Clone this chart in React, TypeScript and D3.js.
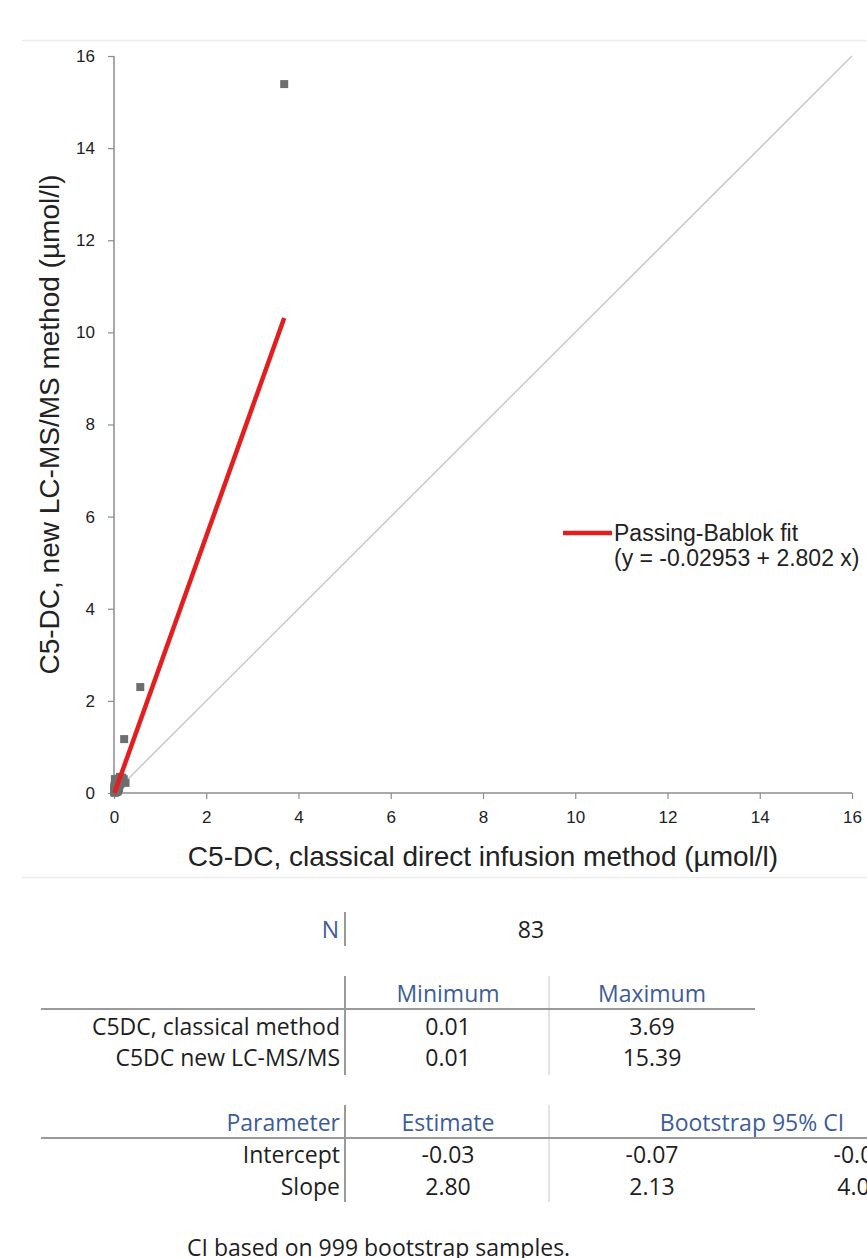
import React, { useEffect, useRef } from "react";
import * as d3 from "d3";

// measurements: classical direct infusion (x) vs new LC-MS/MS (y), µmol/l
const classical = [
  3.69, 0.57, 0.22, 0.25, 0.21, 0.19, 0.17, 0.15, 0.13, 0.12,
  0.11, 0.1, 0.09, 0.09, 0.08, 0.08, 0.07, 0.07, 0.07, 0.06,
  0.06, 0.06, 0.05, 0.05, 0.05, 0.05, 0.04, 0.04, 0.04, 0.04,
  0.04, 0.03, 0.03, 0.03, 0.03, 0.03, 0.03, 0.02, 0.02, 0.02,
  0.02, 0.02, 0.02, 0.02, 0.01, 0.01, 0.01, 0.01, 0.01, 0.01,
  0.05, 0.06, 0.08, 0.1, 0.12, 0.14, 0.03, 0.04, 0.05, 0.07,
  0.09, 0.11, 0.02, 0.03, 0.04, 0.06, 0.08, 0.02, 0.03, 0.05,
  0.07, 0.01, 0.02, 0.04, 0.06, 0.03, 0.05, 0.09, 0.16, 0.2,
  0.18, 0.13, 0.04,
];
const lcms = [
  15.39, 2.3, 1.17, 0.22, 0.3, 0.26, 0.33, 0.28, 0.35, 0.24,
  0.2, 0.31, 0.18, 0.27, 0.15, 0.22, 0.12, 0.19, 0.25, 0.1,
  0.16, 0.21, 0.08, 0.13, 0.17, 0.23, 0.06, 0.1, 0.14, 0.19,
  0.27, 0.05, 0.08, 0.11, 0.15, 0.2, 0.29, 0.03, 0.06, 0.09,
  0.12, 0.16, 0.24, 0.3, 0.01, 0.03, 0.05, 0.08, 0.11, 0.15,
  0.04, 0.07, 0.09, 0.14, 0.17, 0.2, 0.02, 0.04, 0.06, 0.05,
  0.07, 0.1, 0.02, 0.03, 0.02, 0.03, 0.04, 0.01, 0.02, 0.03,
  0.04, 0.02, 0.04, 0.03, 0.13, 0.13, 0.18, 0.26, 0.31, 0.27,
  0.33, 0.3, 0.21,
];

const fitIntercept = -0.02953;
const fitSlope = 2.802;
const axisTicks = [0, 2, 4, 6, 8, 10, 12, 14, 16];

const nValue = "83";
const rangeHeaders = ["Minimum", "Maximum"];
const rangeRows = ["C5DC, classical method", "C5DC new LC-MS/MS"];
const rangeValues = [["0.01", "3.69"], ["0.01", "15.39"]];
const paramHeaders = ["Parameter", "Estimate", "Bootstrap 95% CI"];
const paramRows = ["Intercept", "Slope"];
const paramValues = [["-0.03", "-0.07", "-0.01"], ["2.80", "2.13", "4.08"]];

const W = 867;
const H = 1258;

export default function App() {
  const ref = useRef<SVGSVGElement>(null);

  useEffect(() => {
    const svg = d3.select(ref.current);
    svg.selectAll("*").remove();

    const x = d3.scaleLinear().domain([0, 16]).range([114, 852]);
    const y = d3.scaleLinear().domain([0, 16]).range([793, 56]);
    const chartFont = "'Liberation Sans', Arial, sans-serif";
    const tableFont = "'Open Sans', Lato, sans-serif";

    // light separator lines
    svg.append("line").attr("x1", 22).attr("x2", W).attr("y1", 40.5).attr("y2", 40.5)
      .attr("stroke", "#ececec").attr("stroke-width", 1.5);
    svg.append("line").attr("x1", 22).attr("x2", W).attr("y1", 877.5).attr("y2", 877.5)
      .attr("stroke", "#ececec").attr("stroke-width", 1.5);

    // identity line
    svg.append("line")
      .attr("x1", x(0)).attr("y1", y(0)).attr("x2", x(16)).attr("y2", y(16))
      .attr("stroke", "#c8c8c8").attr("stroke-width", 1.5);

    // axes
    const xAxis = svg.append("g").attr("transform", `translate(0,${y(0)})`)
      .call(d3.axisBottom(x).tickValues(axisTicks).tickSize(6).tickPadding(12));
    const yAxis = svg.append("g").attr("transform", `translate(${x(0)},0)`)
      .call(d3.axisLeft(y).tickValues(axisTicks).tickSize(6).tickPadding(13));
    [xAxis, yAxis].forEach(g => {
      g.select(".domain").attr("stroke", "#8c8c8c").attr("stroke-width", 1.5);
      g.selectAll(".tick line").attr("stroke", "#8c8c8c").attr("stroke-width", 1.2);
      g.selectAll(".tick text").attr("fill", "#222").attr("font-family", chartFont).attr("font-size", 17);
    });
    xAxis.select(".domain").attr("d", `M${x(0)},0H${x(16)}`);
    yAxis.select(".domain").attr("d", `M0,${y(0)}V${y(16)}`);

    // axis titles
    svg.append("text").attr("x", (x(0) + x(16)) / 2).attr("y", 866)
      .attr("text-anchor", "middle").attr("font-family", chartFont).attr("font-size", 28).attr("fill", "#222")
      .text("C5-DC, classical direct infusion method (µmol/l)");
    svg.append("text").attr("transform", `translate(59,${(y(0) + y(16)) / 2}) rotate(-90)`)
      .attr("text-anchor", "middle").attr("font-family", chartFont).attr("font-size", 28).attr("fill", "#222")
      .text("C5-DC, new LC-MS/MS method (µmol/l)");

    // points
    const pts = classical.map((c, i) => [c, lcms[i]]);
    svg.append("g").selectAll("rect").data(pts).join("rect")
      .attr("x", d => x(d[0]) - 4).attr("y", d => y(d[1]) - 4)
      .attr("width", 8).attr("height", 8)
      .attr("fill", "#6e6e6e");

    // Passing-Bablok fit
    const xMin = d3.min(classical) as number;
    const xMax = d3.max(classical) as number;
    svg.append("line")
      .attr("x1", x(xMin)).attr("y1", y(fitIntercept + fitSlope * xMin))
      .attr("x2", x(xMax)).attr("y2", y(fitIntercept + fitSlope * xMax))
      .attr("stroke", "#e41e1e").attr("stroke-width", 4.5);

    // legend
    svg.append("line").attr("x1", 563).attr("x2", 612).attr("y1", 533).attr("y2", 533)
      .attr("stroke", "#e41e1e").attr("stroke-width", 4.5);
    svg.append("text").attr("x", 614).attr("y", 541).attr("font-family", chartFont).attr("font-size", 23)
      .attr("fill", "#222").text("Passing-Bablok fit");
    svg.append("text").attr("x", 614).attr("y", 566).attr("font-family", chartFont).attr("font-size", 23)
      .attr("fill", "#222").text(`(y = ${fitIntercept} + ${fitSlope} x)`);

    // tables
    const blue = "#3d5c9c";
    const ink = "#1e1e1e";
    const divider = 345;
    const col1 = 448;
    const col2 = 652;
    const col3 = 860;
    const txt = (tx: number, ty: number, s: string, anchor: string, fill = ink) =>
      svg.append("text").attr("x", tx).attr("y", ty).attr("text-anchor", anchor)
        .attr("font-family", tableFont).attr("font-size", 23).attr("fill", fill).text(s);

    // N
    svg.append("line").attr("x1", divider).attr("x2", divider).attr("y1", 912).attr("y2", 946)
      .attr("stroke", "#777").attr("stroke-width", 1.5);
    txt(339, 938, "N", "end", blue);
    txt(531, 938, nValue, "middle");

    // min / max
    svg.append("line").attr("x1", divider).attr("x2", divider).attr("y1", 976).attr("y2", 1075)
      .attr("stroke", "#777").attr("stroke-width", 1.5);
    svg.append("line").attr("x1", 549).attr("x2", 549).attr("y1", 976).attr("y2", 1075)
      .attr("stroke", "#d8d8d8").attr("stroke-width", 1.5);
    svg.append("line").attr("x1", 41).attr("x2", 755).attr("y1", 1009).attr("y2", 1009)
      .attr("stroke", "#9a9a9a").attr("stroke-width", 2);
    txt(col1, 1002, rangeHeaders[0], "middle", blue);
    txt(col2, 1002, rangeHeaders[1], "middle", blue);
    rangeRows.forEach((r, i) => {
      const ry = 1035 + i * 31;
      txt(340, ry, r, "end");
      txt(col1, ry, rangeValues[i][0], "middle");
      txt(col2, ry, rangeValues[i][1], "middle");
    });

    // parameters
    svg.append("line").attr("x1", divider).attr("x2", divider).attr("y1", 1105).attr("y2", 1202)
      .attr("stroke", "#777").attr("stroke-width", 1.5);
    svg.append("line").attr("x1", 549).attr("x2", 549).attr("y1", 1105).attr("y2", 1202)
      .attr("stroke", "#d8d8d8").attr("stroke-width", 1.5);
    svg.append("line").attr("x1", 41).attr("x2", W).attr("y1", 1138).attr("y2", 1138)
      .attr("stroke", "#9a9a9a").attr("stroke-width", 2);
    txt(340, 1131, paramHeaders[0], "end", blue);
    txt(col1, 1131, paramHeaders[1], "middle", blue);
    txt(752, 1131, paramHeaders[2], "middle", blue);
    paramRows.forEach((r, i) => {
      const ry = 1163 + i * 32;
      txt(340, ry, r, "end");
      txt(col1, ry, paramValues[i][0], "middle");
      txt(col2, ry, paramValues[i][1], "middle");
      txt(col3, ry, paramValues[i][2], "middle");
    });

    txt(187, 1256, "CI based on 999 bootstrap samples.", "start");
  }, []);

  return (
    <svg ref={ref} width={W} height={H}
      style={{ position: "absolute", left: 0, top: 0, background: "#fff" }} />
  );
}
